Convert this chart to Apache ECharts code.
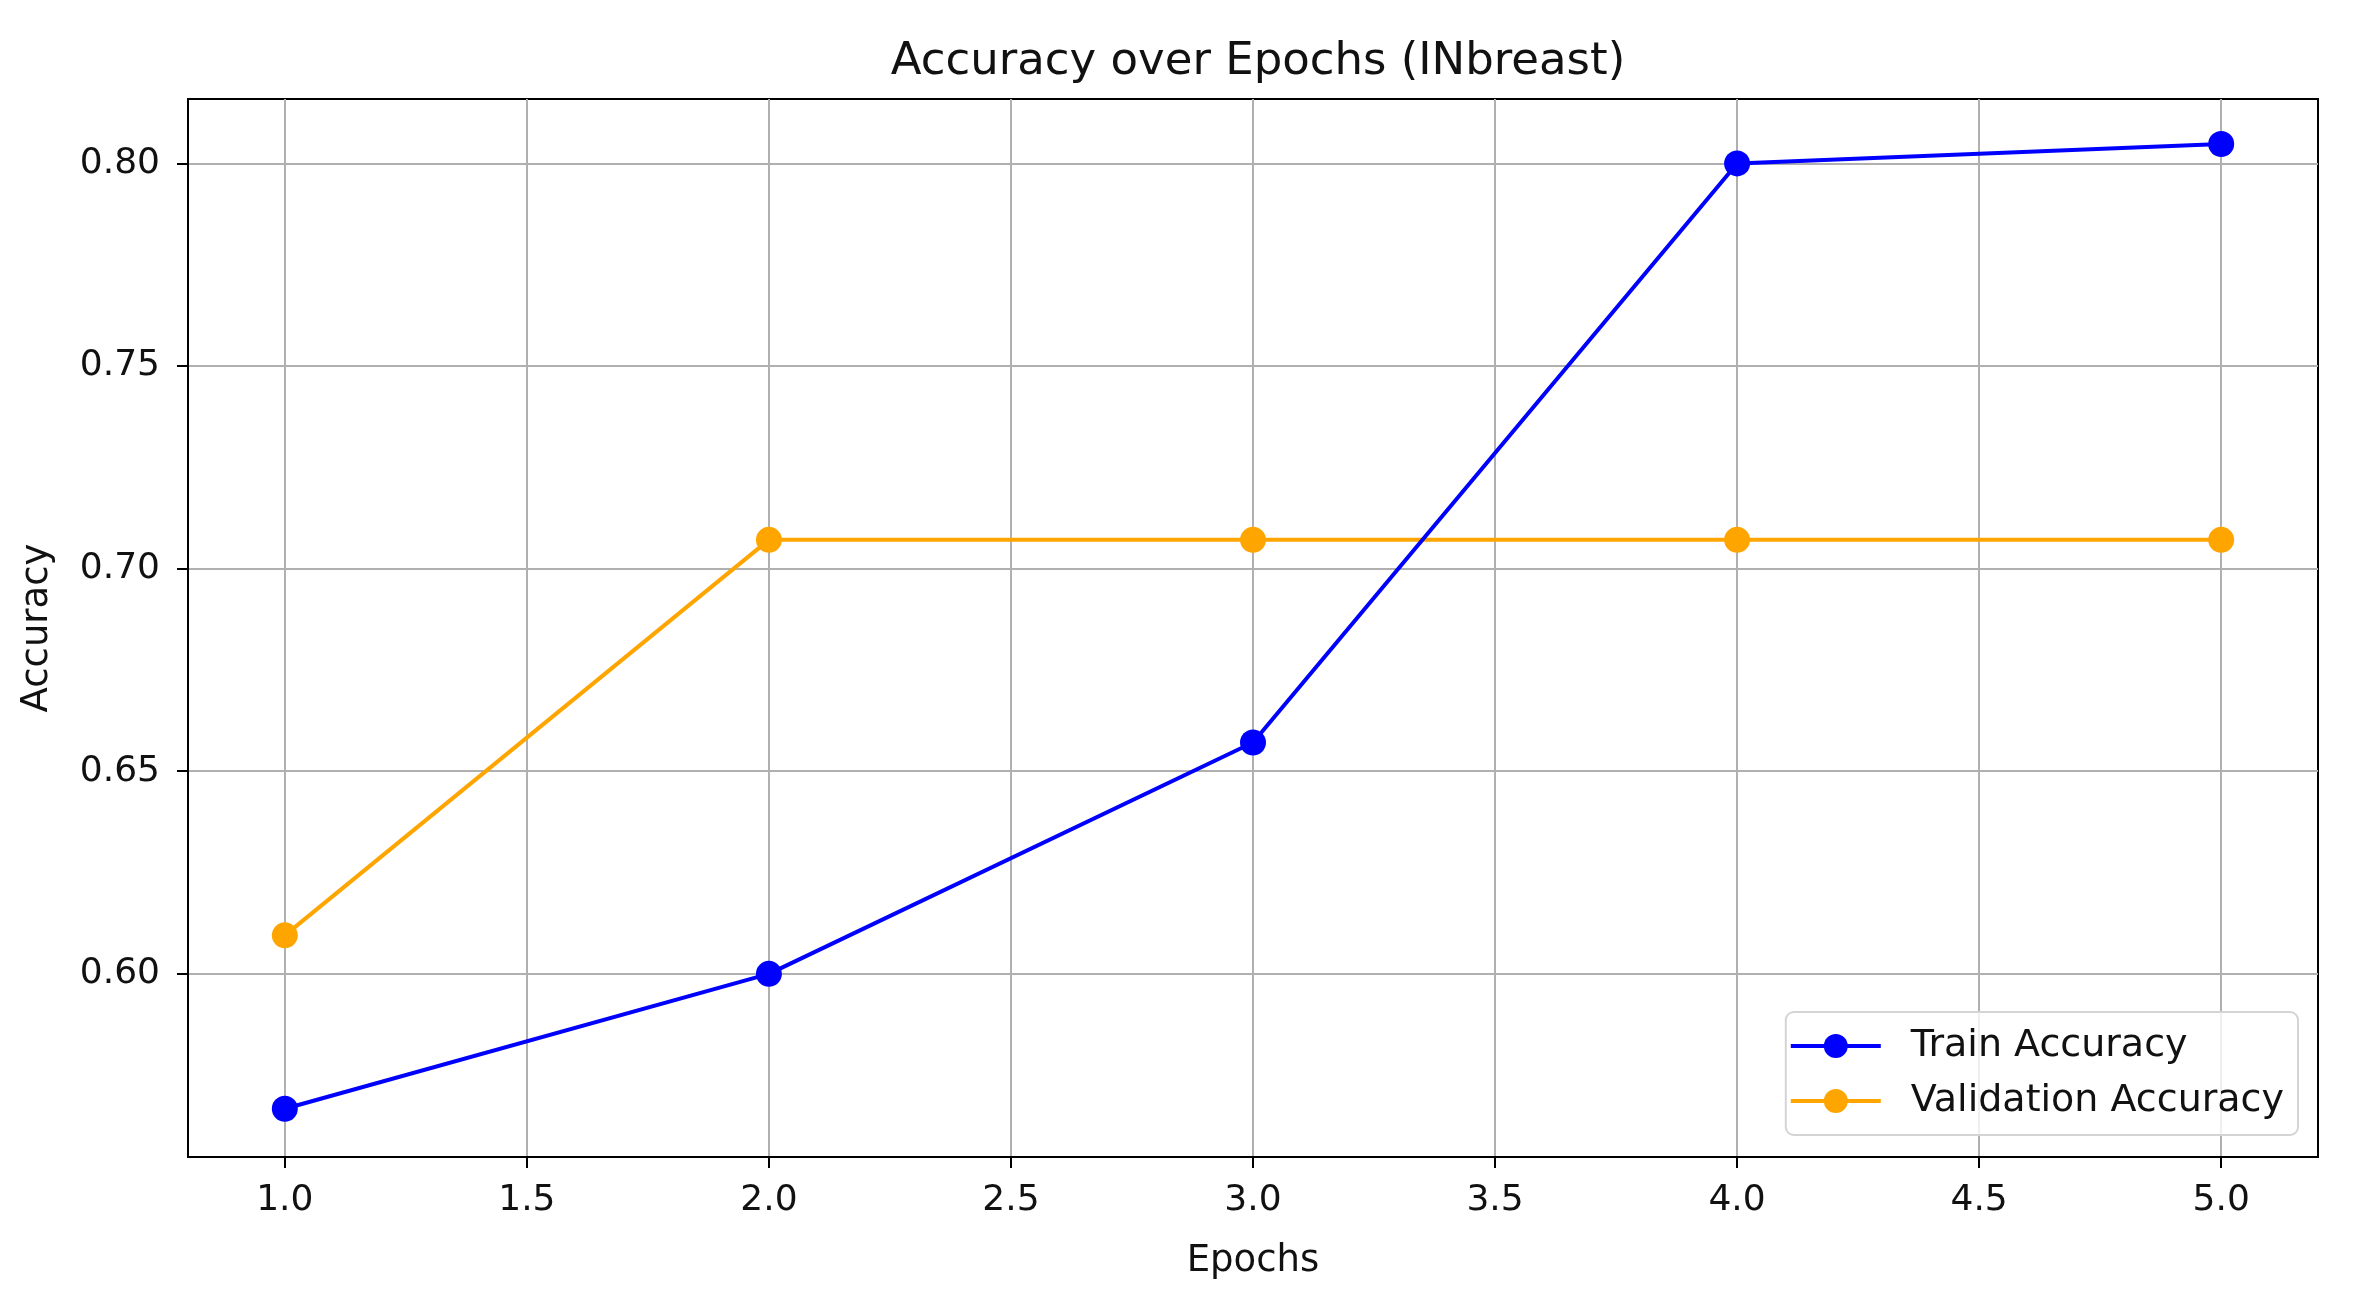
<!DOCTYPE html>
<html>
<head>
<meta charset="utf-8">
<script src="https://cdn.jsdelivr.net/npm/echarts@6/dist/echarts.min.js"></script>
<style>
html, body { margin: 0; padding: 0; background: #fff; }
#chart { width: 2355px; height: 1297px; }
</style>
</head>
<body>
<div id="chart"></div>
<script>
// data
var epochs = [1, 2, 3, 4, 5];
var trainAcc = [0.5667, 0.6000, 0.6571, 0.8000, 0.8048];
var valAcc = [0.6095, 0.7071, 0.7071, 0.7071, 0.7071];
var xTicks = [1.0, 1.5, 2.0, 2.5, 3.0, 3.5, 4.0, 4.5, 5.0];
var yTicks = [0.60, 0.65, 0.70, 0.75, 0.80];

var font = 'DejaVu Sans';

function pairs(ys) {
    return epochs.map(function (x, i) { return [x, ys[i]]; });
}

var chart = echarts.init(document.getElementById('chart'));
chart.setOption({
    animation: false,
    backgroundColor: '#fff',
    title: {
        text: 'Accuracy over Epochs (INbreast)',
        left: 1253,
        textAlign: 'center',
        top: 35,
        textStyle: { fontFamily: font, fontSize: 45, fontWeight: 'normal', color: '#111' }
    },
    legend: {
        orient: 'vertical',
        right: 57,
        top: 1012,
        itemWidth: 90,
        itemHeight: 30,
        itemGap: 17,
        padding: [15, 14, 15, 3],
        backgroundColor: 'rgba(255,255,255,0.8)',
        borderColor: '#d4d4d4',
        borderWidth: 2,
        borderRadius: 8,
        lineStyle: { width: 4 },
        textStyle: { fontFamily: font, fontSize: 38, color: '#111', padding: [0, 0, 0, 25] },
        data: ['Train Accuracy', 'Validation Accuracy']
    },
    grid: {
        left: 188, right: 37, top: 99, bottom: 140,
        show: true, borderColor: '#000', borderWidth: 2
    },
    xAxis: {
        type: 'value',
        min: 0.8,
        max: 5.2,
        name: 'Epochs',
        nameLocation: 'middle',
        nameGap: 86,
        nameTextStyle: { fontFamily: font, fontSize: 37, color: '#111' },
        axisLine: { show: true, lineStyle: { color: '#000', width: 2 } },
        axisTick: { show: true, length: 11, lineStyle: { color: '#000', width: 2 }, customValues: xTicks },
        axisLabel: {
            customValues: xTicks, margin: 26,
            fontFamily: font, fontSize: 36, color: '#111',
            formatter: function (v) { return v.toFixed(1); }
        },
        splitLine: { show: true, lineStyle: { color: '#b0b0b0', width: 2 } }
    },
    yAxis: {
        type: 'value',
        min: 0.5548,
        max: 0.8159,
        name: 'Accuracy',
        nameLocation: 'middle',
        nameRotate: 90,
        nameGap: 132,
        nameTextStyle: { fontFamily: font, fontSize: 37, color: '#111' },
        axisLine: { show: true, lineStyle: { color: '#000', width: 2 } },
        axisTick: { show: true, length: 11, lineStyle: { color: '#000', width: 2 }, customValues: yTicks },
        axisLabel: {
            customValues: yTicks, margin: 28,
            fontFamily: font, fontSize: 36, color: '#111',
            formatter: function (v) { return v.toFixed(2); }
        },
        splitLine: { show: true, lineStyle: { color: '#b0b0b0', width: 2 } }
    },
    series: [{
        name: 'Train Accuracy',
        type: 'line',
        data: pairs(trainAcc),
        color: '#0000ff',
        symbol: 'circle',
        symbolSize: 26,
        lineStyle: { width: 4 },
        z: 3
    }, {
        name: 'Validation Accuracy',
        type: 'line',
        data: pairs(valAcc),
        color: '#ffa500',
        symbol: 'circle',
        symbolSize: 26,
        lineStyle: { width: 4 },
        z: 2
    }]
});
</script>
</body>
</html>
